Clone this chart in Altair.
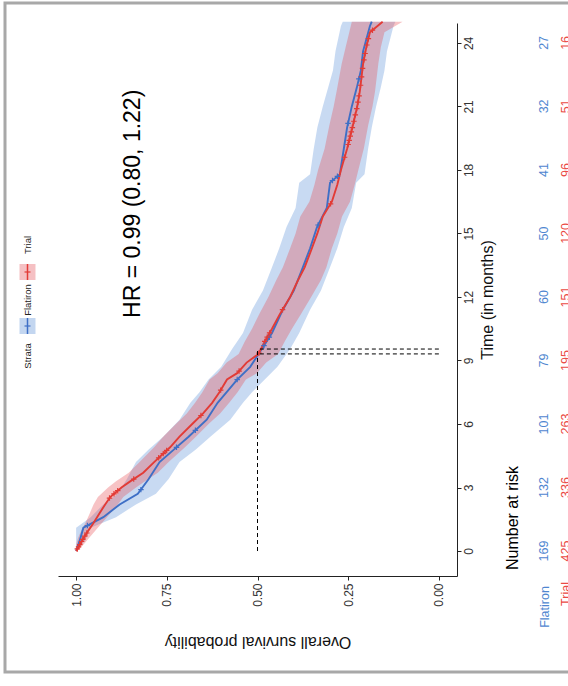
import altair as alt
import numpy as np
import pandas as pd

# ---------------- data ----------------
trial_t = [0, 0.3, 0.6, 1.0, 1.3, 1.8, 2.2, 2.55, 3.0, 3.3, 3.7, 4.2, 4.9, 5.4, 6.0, 6.5, 7.0, 7.5,
           8.1, 8.4, 8.9, 9.31, 9.9, 10.5, 11.2, 12.0, 12.8, 13.4, 14.3, 15.0, 15.8, 16.5, 17.3,
           18.0, 19.0, 20.1, 21.0, 21.7, 23.0, 23.8, 24.5, 25.0]
trial_s = [1.0, 0.99, 0.98, 0.965, 0.953, 0.935, 0.92, 0.906, 0.875, 0.85, 0.815, 0.785, 0.741,
           0.715, 0.68, 0.65, 0.625, 0.605, 0.584, 0.556, 0.53, 0.497, 0.48, 0.46, 0.438, 0.41,
           0.388, 0.37, 0.35, 0.335, 0.32, 0.295, 0.28, 0.27, 0.253, 0.237, 0.225, 0.218, 0.209,
           0.20, 0.19, 0.155]
trial_lo = [1.0, 0.98, 0.965, 0.945, 0.93, 0.905, 0.885, 0.87, 0.835, 0.81, 0.775, 0.745, 0.70,
            0.67, 0.635, 0.603, 0.578, 0.555, 0.532, 0.502, 0.476, 0.443, 0.425, 0.405, 0.38,
            0.352, 0.325, 0.31, 0.295, 0.28, 0.267, 0.245, 0.232, 0.222, 0.207, 0.195, 0.183,
            0.176, 0.167, 0.16, 0.15, 0.10]
trial_hi = [1.0, 1.0, 0.995, 0.985, 0.975, 0.962, 0.952, 0.94, 0.912, 0.89, 0.855, 0.825, 0.785,
            0.76, 0.725, 0.695, 0.672, 0.652, 0.632, 0.61, 0.585, 0.552, 0.535, 0.515, 0.495,
            0.47, 0.448, 0.43, 0.41, 0.395, 0.382, 0.357, 0.343, 0.333, 0.315, 0.302, 0.29,
            0.282, 0.268, 0.257, 0.247, 0.24]
trial_cens = [0.1, 0.2, 0.3, 0.45, 0.55, 0.7, 0.85, 2.5, 2.7, 2.85, 3.4, 4.4, 4.6, 4.75, 6.4,
              7.6, 8.5, 9.35, 9.9, 10.1, 10.3, 11.4, 16.4, 18.6, 19.2, 19.4, 19.6, 19.8, 20.0,
              20.3, 20.6, 20.9, 21.2, 21.5, 22.0, 22.4, 22.8, 23.2, 23.5, 23.9, 24.2, 24.6]

flat_t = [0, 0.5, 1.1, 1.6, 2.2, 2.7, 3.4, 4.2, 4.8, 5.4, 6.2, 7.0, 7.5, 8.1, 8.7, 9.54, 10.3,
          11.4, 12.3, 13.4, 14.3, 15.3, 16.2, 17.4, 17.8, 19.0, 20.0, 21.0, 21.9, 22.7, 23.6,
          24.8, 25.0]
flat_s = [1.0, 0.99, 0.98, 0.925, 0.88, 0.83, 0.80, 0.77, 0.73, 0.69, 0.64, 0.61, 0.585, 0.556,
          0.52, 0.488, 0.46, 0.43, 0.40, 0.375, 0.355, 0.336, 0.309, 0.30, 0.273, 0.262, 0.253,
          0.24, 0.226, 0.215, 0.209, 0.19, 0.185]
flat_lo = [1.0, 0.975, 0.96, 0.89, 0.835, 0.78, 0.745, 0.715, 0.67, 0.63, 0.575, 0.54, 0.515,
           0.48, 0.445, 0.41, 0.385, 0.355, 0.325, 0.30, 0.28, 0.262, 0.24, 0.228, 0.205, 0.195,
           0.185, 0.173, 0.16, 0.15, 0.143, 0.125, 0.12]
flat_hi = [1.0, 1.0, 1.0, 0.96, 0.925, 0.885, 0.86, 0.835, 0.80, 0.76, 0.715, 0.685, 0.66, 0.635,
           0.60, 0.57, 0.54, 0.515, 0.485, 0.46, 0.44, 0.42, 0.395, 0.385, 0.355, 0.345, 0.335,
           0.32, 0.305, 0.292, 0.285, 0.27, 0.265]
flat_cens = [1.2, 2.9, 4.9, 5.7, 8.1, 9.7, 10.1, 15.4, 17.5, 17.7, 20.2, 22.3]

medians = [9.31, 9.54]
risk_times = [0, 3, 6, 9, 12, 15, 18, 21, 24]
risk_flatiron = [169, 132, 101, 79, 60, 50, 41, 32, 27]
risk_trial = [425, 336, 263, 195, 151, 120, 96, 51, 16]
hr_text = "HR = 0.99 (0.80, 1.22)"

BLUE = "#3e6fc6"
RED = "#e23b36"
BLUE_TXT = "#4f86d0"
RED_TXT = "#ea4a45"
FONT = "Liberation Sans"

# ---------------- helpers ----------------
def curve_df(t, s, lo, hi):
    return pd.DataFrame({"t": t, "s": s, "lo": lo, "hi": hi})


def cens_df(times, t, s):
    # censor marks sit on the drawn curve
    return pd.DataFrame({"t": times, "s": np.interp(times, t, s)})


xs = alt.Scale(domain=[-0.05, 1.05], reverse=True, nice=False, zero=False)
ys = alt.Scale(domain=[-1.18, 24.94], nice=False, zero=False)

x_axis = alt.Axis(values=[0, 0.25, 0.5, 0.75, 1.0], format=".2f", grid=False,
                  labelAngle=270, labelAlign="right", labelBaseline="middle",
                  labelFontSize=12, labelColor="#333333", labelFont=FONT, labelPadding=3,
                  tickSize=4, tickColor="#222222", domainColor="#222222",
                  title="Overall survival probability", titleAngle=180, titleFontSize=16,
                  titleFontWeight="normal", titleFont=FONT, titleColor="#111111",
                  titleAlign="center", titleBaseline="middle", titleX=199.5, titleY=65)
y_axis = alt.Axis(values=risk_times, orient="right", grid=False,
                  labelAngle=270, labelAlign="center", labelBaseline="top",
                  labelFontSize=12, labelColor="#333333", labelFont=FONT, labelPadding=2,
                  tickSize=4, tickColor="#222222", domainColor="#222222",
                  title="Time (in months)", titleAngle=270, titleFontSize=16,
                  titleFontWeight="normal", titleFont=FONT, titleColor="#111111",
                  titleAlign="center", titleBaseline="middle", titleX=30, titleY=276.5)


def X(field):
    return alt.X(field, scale=xs, axis=x_axis)


def Y(field):
    return alt.Y(field, scale=ys, axis=y_axis)


flat = curve_df(flat_t, flat_s, flat_lo, flat_hi)
trial = curve_df(trial_t, trial_s, trial_lo, trial_hi)

plus_shape = "M-1,0L1,0M0,-1L0,1"


def band(df, color, op):
    return alt.Chart(df).mark_area(orient="horizontal", interpolate="linear",
                                   color=color, opacity=op).encode(
        x=X("lo:Q"), x2="hi:Q", y=Y("t:Q"))


def line(df, color):
    return alt.Chart(df).mark_line(interpolate="linear", color=color,
                                   strokeWidth=1.9).encode(
        x=X("s:Q"), y=Y("t:Q"), order=alt.Order("t:Q"))


def cens(df, color):
    return alt.Chart(df).mark_point(shape=plus_shape, filled=False, color=color,
                                    size=30, strokeWidth=1.2, opacity=1).encode(
        x=X("s:Q"), y=Y("t:Q"))


# median lines
med_v = alt.Chart(pd.DataFrame({"s": [0.5], "t0": [0.0], "t1": [max(medians)]})).mark_rule(
    color="black", strokeWidth=1, strokeDash=[4, 3]).encode(
    x=X("s:Q"), y=Y("t0:Q"), y2="t1:Q")
med_h = alt.Chart(pd.DataFrame({"s0": [0.0, 0.0], "s1": [0.5, 0.5], "t": medians})).mark_rule(
    color="black", strokeWidth=1, strokeDash=[4, 3]).encode(
    x=X("s0:Q"), x2="s1:Q", y=Y("t:Q"))

# HR annotation
hr = alt.Chart(pd.DataFrame({"s": [0.843], "t": [16.4], "txt": [hr_text]})).mark_text(
    angle=270, align="center", baseline="middle", fontSize=23, font=FONT, color="black").encode(
    x=X("s:Q"), y=Y("t:Q"), text="txt:N")

# risk table
risk = pd.DataFrame({"t": risk_times, "f": risk_flatiron, "r": risk_trial})
risk_f = alt.Chart(risk).mark_text(angle=270, align="center", baseline="middle", fontSize=12.5,
                                   font=FONT, color=BLUE_TXT).encode(
    x=alt.value(486), y=Y("t:Q"), text="f:Q")
risk_r = alt.Chart(risk).mark_text(angle=270, align="center", baseline="middle", fontSize=12.5,
                                   font=FONT, color=RED_TXT).encode(
    x=alt.value(508), y=Y("t:Q"), text="r:Q")
risk_title = alt.Chart(pd.DataFrame({"txt": ["Number at risk"]})).mark_text(
    angle=270, align="left", baseline="middle", fontSize=16, font=FONT, color="black").encode(
    x=alt.value(455), y=alt.value(547), text="txt:N")
lab_f = alt.Chart(pd.DataFrame({"txt": ["Flatiron"]})).mark_text(
    angle=270, align="center", baseline="middle", fontSize=12.5, font=FONT, color=BLUE_TXT).encode(
    x=alt.value(487), y=alt.value(584), text="txt:N")
lab_r = alt.Chart(pd.DataFrame({"txt": ["Trial"]})).mark_text(
    angle=270, align="center", baseline="middle", fontSize=12.5, font=FONT, color=RED_TXT).encode(
    x=alt.value(508), y=alt.value(571), text="txt:N")

# legend (rotated, drawn by hand)
one = pd.DataFrame({"a": [0]})
leg_items = []
for txt, y_txt, y_box, col, fill in [("Flatiron", 277, 303, BLUE, "#c3d6f0"),
                                     ("Trial", 222, 249, RED, "#f5c0c3")]:
    leg_items.append(alt.Chart(one).mark_rect(color=fill).encode(
        x=alt.value(-38.5), x2=alt.value(-22.5), y=alt.value(y_box - 8), y2=alt.value(y_box + 8)))
    leg_items.append(alt.Chart(one).mark_rule(color=col, strokeWidth=1.5).encode(
        x=alt.value(-30.5), y=alt.value(y_box - 8), y2=alt.value(y_box + 8)))
    leg_items.append(alt.Chart(one).mark_rule(color=col, strokeWidth=1.2).encode(
        x=alt.value(-33.5), x2=alt.value(-27.5), y=alt.value(y_box)))
    leg_items.append(alt.Chart(pd.DataFrame({"txt": [txt]})).mark_text(
        angle=270, align="center", baseline="middle", fontSize=9.5, font=FONT, color="#222222").encode(
        x=alt.value(-30), y=alt.value(y_txt), text="txt:N"))
leg_items.append(alt.Chart(pd.DataFrame({"txt": ["Strata"]})).mark_text(
    angle=270, align="center", baseline="middle", fontSize=9.5, font=FONT, color="#222222").encode(
    x=alt.value(-30), y=alt.value(333), text="txt:N"))

# outer frame
frame = alt.Chart(one).mark_rect(fill="transparent", stroke="#a8a8a8", strokeWidth=3).encode(
    x=alt.value(-53), x2=alt.value(560), y=alt.value(-20), y2=alt.value(649))

chart = alt.layer(
    band(flat, "#4a86d4", 0.3),
    band(trial, "#e84a4f", 0.33),
    line(flat, BLUE),
    line(trial, RED),
    cens(cens_df(flat_cens, flat_t, flat_s), BLUE),
    cens(cens_df(trial_cens, trial_t, trial_s), RED),
    med_v, med_h, hr,
    risk_f, risk_r, risk_title, lab_f, lab_r,
    *leg_items,
    frame,
).properties(
    width=399, height=553,
    autosize=alt.AutoSizeParams(type="none"),
    padding={"left": 58, "top": 23, "right": 111, "bottom": 110},
).configure(background="white").configure_view(stroke="transparent")

chart.save("out.html", embed_options={"renderer": "svg", "actions": False})
